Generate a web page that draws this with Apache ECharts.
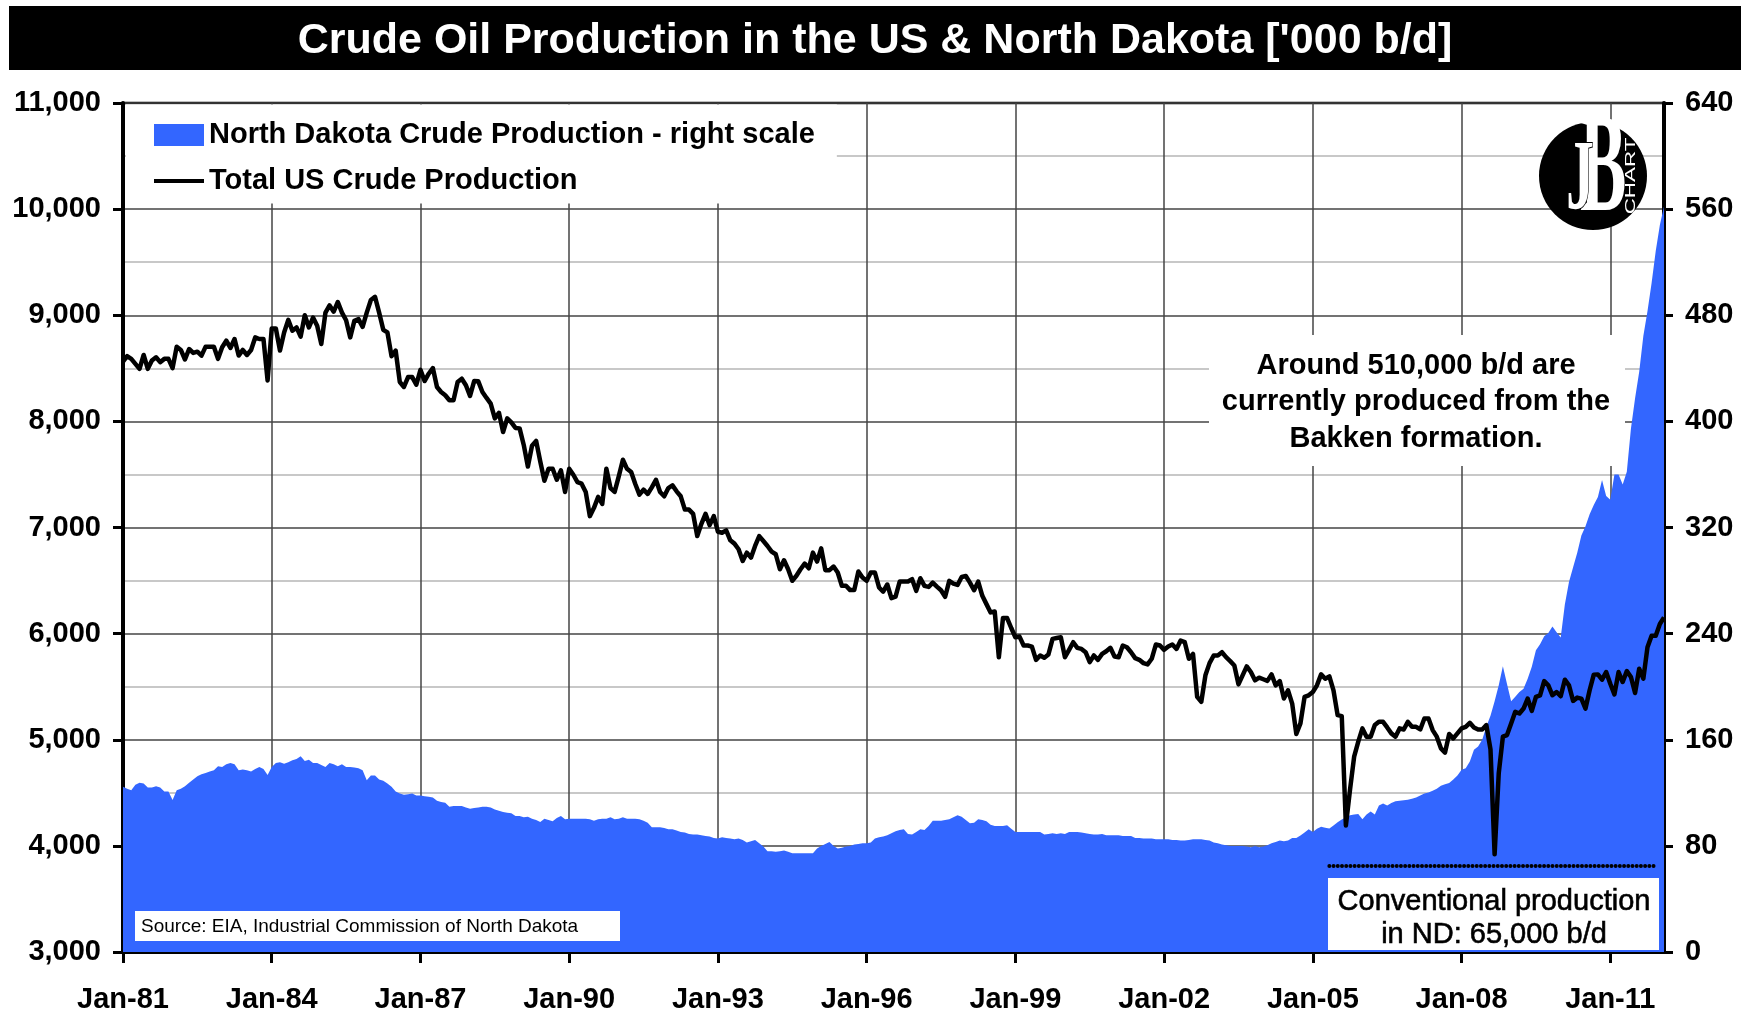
<!DOCTYPE html>
<html>
<head>
<meta charset="utf-8">
<script src="https://cdn.jsdelivr.net/npm/echarts@6/dist/echarts.min.js"></script>
<style>
html,body{margin:0;padding:0;background:#fff;}
#chart{width:1750px;height:1014px;}
</style>
</head>
<body>
<div id="chart"></div>
<script>
// ---------------- DATA ----------------
const titleText = "Crude Oil Production in the US & North Dakota ['000 b/d]";
const ndName = 'North Dakota Crude Production - right scale';
const usName = 'Total US Crude Production';
const monthNames = ['Jan','Feb','Mar','Apr','May','Jun','Jul','Aug','Sep','Oct','Nov','Dec'];
const firstYear = 1981;
const lastYear = 2012;
const lastMonthCount = 2; // Jan-12, Feb-12

// Total US crude production ('000 b/d), monthly Jan-81 .. Feb-12 (left scale)
const usTotal = [
  8564, 8614, 8589, 8542, 8495, 8626, 8495, 8573, 8604, 8558, 8589, 8589,
  8502, 8704, 8673, 8583, 8682, 8645, 8657, 8620, 8704, 8704, 8704, 8589,
  8698, 8760, 8692, 8776, 8620, 8673, 8626, 8673, 8791, 8776, 8776, 8386,
  8875, 8875, 8667, 8838, 8956, 8854, 8885, 8798, 9000, 8885, 8978, 8900,
  8729, 9025, 9093, 9034, 9125, 9025, 8953, 8791, 8947, 8963, 8891, 9025,
  9143, 9174, 9025, 8863, 8838, 8614, 8667, 8371, 8324, 8417, 8417, 8346,
  8486, 8380, 8449, 8502, 8324, 8277, 8246, 8199, 8199, 8371, 8402, 8340,
  8240, 8380, 8377, 8277, 8221, 8168, 8028, 8081, 7900, 8028, 7990, 7938,
  7934, 7778, 7575, 7770, 7816, 7622, 7441, 7553, 7553, 7450, 7538, 7335,
  7553, 7497, 7428, 7413, 7335, 7107, 7185, 7288, 7222, 7553, 7372, 7335,
  7482, 7638, 7553, 7522, 7410, 7310, 7357, 7316, 7378, 7450, 7335, 7294,
  7372, 7397, 7341, 7294, 7169, 7169, 7129, 6919, 7035, 7129, 7022, 7107,
  6960, 6951, 6973, 6879, 6848, 6795, 6685, 6763, 6716, 6826, 6919, 6873,
  6826, 6773, 6748, 6607, 6691, 6607, 6498, 6545, 6607, 6660, 6616, 6763,
  6679, 6804, 6598, 6598, 6632, 6576, 6451, 6451, 6410, 6410, 6585, 6529,
  6498, 6576, 6576, 6435, 6395, 6463, 6335, 6349, 6491, 6490, 6491, 6513,
  6403, 6522, 6450, 6440, 6481, 6443, 6409, 6347, 6497, 6472, 6459, 6534,
  6543, 6481, 6409, 6490, 6356, 6278, 6200, 6209, 5778, 6147, 6147, 6053,
  5966, 5972, 5888, 5888, 5878, 5753, 5794, 5772, 5803, 5950, 5959, 5966,
  5778, 5847, 5919, 5866, 5856, 5825, 5731, 5794, 5753, 5809, 5834, 5866,
  5785, 5778, 5888, 5872, 5825, 5769, 5753, 5722, 5710, 5763, 5897, 5888,
  5847, 5878, 5897, 5856, 5934, 5919, 5763, 5809, 5404, 5357, 5607, 5722,
  5794, 5794, 5825, 5778, 5741, 5700, 5522, 5607, 5691, 5638, 5560, 5585,
  5570, 5555, 5616, 5513, 5553, 5388, 5466, 5341, 5054, 5154, 5404, 5419,
  5450, 5513, 5616, 5575, 5597, 5466, 5232, 5222, 4192, 4529, 4841, 4982,
  5107, 5029, 5029, 5138, 5169, 5169, 5116, 5060, 5029, 5107, 5097, 5169,
  5122, 5122, 5097, 5200, 5200, 5091, 5029, 4919, 4879, 5054, 5013, 5060,
  5107, 5122, 5160, 5116, 5097, 5097, 5138, 4910, 3920, 4685, 5029, 5044,
  5154, 5263, 5247, 5294, 5388, 5272, 5404, 5419, 5553, 5513, 5419, 5450,
  5410, 5566, 5513, 5366, 5397, 5388, 5294, 5466, 5613, 5616, 5566, 5638,
  5528, 5428, 5638, 5544, 5647, 5591, 5441, 5669, 5575, 5872, 5981, 5981,
  6091, 6153
];

// North Dakota crude production ('000 b/d), monthly Jan-81 .. Feb-12 (right scale)
const ndProduction = [
  124.5, 123, 122, 126, 127.5, 127, 124, 124, 125, 124, 121, 121,
  114.5, 122, 123, 125, 127.5, 130, 132.5, 134, 135, 136, 137, 140,
  139.5, 141.5, 142.5, 141.5, 137, 137.5, 137, 136, 138, 139.5, 138, 133.5,
  139.5, 142.5, 143, 142, 143, 144.5, 145.5, 147.5, 144, 145, 142.5, 142.5,
  141, 139.5, 142.5, 141.5, 140, 141.5, 139.5, 139.5, 139, 138.5, 137, 129.5,
  133, 133, 130, 129, 127, 124.5, 121, 119.5, 118.5, 119, 119.5, 118,
  118, 117.5, 117, 116.5, 114, 113, 112.5, 109.5, 110, 110, 110, 109,
  108, 108.5, 109, 109.5, 109.5, 109, 107.5, 106.5, 105.5, 105, 104.5, 102.5,
  102.5, 101.5, 102, 100.5, 99.5, 98, 100.5, 99.5, 98.5, 101, 102.5, 100,
  100.5, 100.5, 100.5, 100.5, 100.5, 100, 99, 100, 100.5, 100.5, 101.5, 100,
  100.5, 101.5, 100.5, 100.5, 100.5, 100, 99, 97.5, 94, 94, 94, 93.5,
  92.5, 92.5, 91.5, 90.5, 90, 89, 88.5, 88.5, 88, 87.5, 87, 86,
  85.5, 86.5, 86, 85.5, 85, 85.5, 84.5, 82.5, 83.5, 84.5, 82, 79.5,
  76, 76, 75.5, 76, 76.5, 75.5, 74.5, 74.5, 74.5, 74.5, 74.5, 74.5,
  78, 80, 81.5, 83, 80, 78, 78.5, 79.5, 80, 81, 81.5, 82,
  82, 82.5, 85.5, 86.5, 87, 88, 89.5, 91, 92, 92.5, 89, 88.5,
  90.5, 92.5, 92, 95, 99, 99, 99, 99.5, 100, 101.5, 103, 102,
  99.5, 97, 97.5, 100, 99.5, 98.5, 96, 95, 95, 95, 95.5, 93,
  90.5, 90.5, 90.5, 90.5, 90.5, 90.5, 90.5, 88.5, 89, 89.5, 89, 89.5,
  89, 90.5, 90.5, 90.5, 90, 89.5, 89, 88.5, 88.5, 89, 88, 88,
  88, 88, 87.5, 87.5, 87.5, 86, 86, 85.5, 85.5, 85.5, 85, 85,
  85, 85, 84.5, 84.5, 84, 84, 84.5, 85, 85, 85, 84.5, 84,
  82.5, 82, 81, 80.5, 80, 80, 80, 80, 79.5, 79, 80, 79,
  79.5, 80.5, 82, 83, 84, 83.5, 84, 86, 86, 87.8, 90, 92.5,
  90.5, 93, 94.5, 93.6, 93.1, 95.4, 97.9, 99.9, 101.6, 103, 103.6, 104,
  100, 103.6, 106, 103.6, 110.4, 111.9, 110.4, 112.4, 113.6, 114, 114.4, 114.8,
  115.5, 116.5, 117.9, 119.4, 120.3, 121.5, 123, 125.4, 126.5, 127.4, 130, 133,
  137.4, 138.6, 143.6, 152.4, 155, 160, 170, 178, 189, 201, 215.4, 202,
  189, 192.5, 196, 198.5, 206, 215, 227.4, 232, 238, 240.5, 245.3, 241,
  237, 262, 279, 290, 301, 314, 321, 330, 337, 343, 355.8, 343.8,
  341, 359.9, 359.9, 352.4, 362, 394.7, 417.5, 437.5, 464.3, 483, 504.4, 528.5,
  548, 562
];

// Conventional ND production reference line ('000 b/d) and its span
const conventionalLevel = 65;
const conventionalFrom = 'May-05';
const conventionalTo = 'Dec-11';

const leftTicks = { min: 3000, max: 11000, step: 1000 };
const rightTicks = { min: 0, max: 640, step: 80 };
const labelEveryMonths = 36;

const annotationText = 'Around 510,000 b/d are\ncurrently produced from the\nBakken formation.';
const conventionalText = 'Conventional production\nin ND: 65,000 b/d';
const sourceText = 'Source: EIA, Industrial Commission of North Dakota';

// ---------------- CATEGORIES ----------------
const categories = [];
for (let y = firstYear; y <= lastYear; y++) {
  const nm = (y === lastYear) ? lastMonthCount : 12;
  for (let m = 0; m < nm; m++) {
    categories.push(monthNames[m] + '-' + String(y).slice(2));
  }
}

const FONT = 'Liberation Sans, Arial, Helvetica, sans-serif';
const showEvery = (idx) => idx % labelEveryMonths === 0;
const fmtThousands = (v) => String(v).replace(/\B(?=(\d{3})+(?!\d))/g, ',');

const chart = echarts.init(document.getElementById('chart'), null, { renderer: 'canvas' });

const option = {
  animation: false,
  backgroundColor: '#ffffff',
  textStyle: { fontFamily: FONT },
  title: {
    text: titleText,
    left: 'center',
    top: 20,
    padding: 0,
    textStyle: { color: '#ffffff', fontSize: 43, fontWeight: 'bold', fontFamily: FONT }
  },
  legend: {
    orient: 'vertical',
    left: 126,
    top: 104.5,
    backgroundColor: '#ffffff',
    padding: [16, 22, 8, 28],
    itemWidth: 50,
    itemHeight: 22,
    itemGap: 17,
    selectedMode: false,
    textStyle: { fontSize: 29, fontWeight: 'bold', color: '#000', fontFamily: FONT, lineHeight: 29 },
    data: [
      { name: ndName, icon: 'rect' },
      { name: usName, icon: 'path://M0,0 L50,0 L50,4 L0,4 Z' }
    ]
  },
  grid: {
    left: 123,
    right: 86,
    top: 103,
    bottom: 58,
    show: true,
    borderColor: '#000',
    borderWidth: 2.5,
    backgroundColor: 'transparent',
    containLabel: false
  },
  xAxis: {
    type: 'category',
    data: categories,
    boundaryGap: false,
    axisLine: { show: true, lineStyle: { color: '#000', width: 4 } },
    axisTick: { show: true, interval: showEvery, length: 11, lineStyle: { color: '#000', width: 3 } },
    axisLabel: { interval: showEvery, fontSize: 29, fontWeight: 'bold', color: '#000', margin: 33, fontFamily: FONT },
    splitLine: { show: true, interval: showEvery, lineStyle: { color: '#444', width: 1.5 } }
  },
  yAxis: [
    {
      type: 'value',
      position: 'left',
      min: leftTicks.min,
      max: leftTicks.max,
      interval: leftTicks.step,
      axisLine: { show: true, lineStyle: { color: '#000', width: 4 } },
      axisTick: { show: true, length: 10, lineStyle: { color: '#000', width: 3 } },
      axisLabel: { fontSize: 29, fontWeight: 'bold', color: '#000', margin: 22, formatter: fmtThousands, fontFamily: FONT },
      splitLine: { show: true, lineStyle: { color: '#444', width: 1.5 } },
      minorTick: { show: false, splitNumber: 2 },
      minorSplitLine: { show: true, lineStyle: { color: '#c8c8c8', width: 2 } }
    },
    {
      type: 'value',
      position: 'right',
      min: rightTicks.min,
      max: rightTicks.max,
      interval: rightTicks.step,
      axisLine: { show: true, lineStyle: { color: '#000', width: 4 } },
      axisTick: { show: true, length: 9, lineStyle: { color: '#000', width: 3 } },
      axisLabel: { fontSize: 29, fontWeight: 'bold', color: '#000', margin: 21, fontFamily: FONT },
      splitLine: { show: false }
    }
  ],
  series: [
    {
      name: ndName,
      type: 'line',
      yAxisIndex: 1,
      data: ndProduction,
      symbol: 'none',
      color: '#3366ff',
      lineStyle: { width: 0, color: '#3366ff' },
      areaStyle: { color: '#3366ff', opacity: 1 },
      z: 2,
      markLine: {
        silent: true,
        symbol: 'none',
        label: { show: false },
        lineStyle: { color: '#000', width: 4, type: [0.01, 4.2], cap: 'round' },
        data: [[
          { coord: [conventionalFrom, conventionalLevel] },
          { coord: [conventionalTo, conventionalLevel] }
        ]]
      }
    },
    {
      name: usName,
      type: 'line',
      yAxisIndex: 0,
      data: usTotal,
      symbol: 'none',
      color: '#000',
      lineStyle: { width: 4.5, color: '#000', join: 'round' },
      z: 3
    }
  ],
  graphic: [
    { type: 'rect', z: 0, shape: { x: 9, y: 6, width: 1732, height: 64 }, style: { fill: '#000' } },
    // annotation box
    { type: 'rect', z: 5, shape: { x: 1209, y: 335, width: 416, height: 131 }, style: { fill: '#fff' } },
    { type: 'text', z: 6, x: 1416, y: 402,
      style: { text: annotationText, fill: '#000', font: 'bold 29px ' + FONT, align: 'center', verticalAlign: 'middle', lineHeight: 36.5 } },
    // conventional production box
    { type: 'rect', z: 5, shape: { x: 1328, y: 878, width: 331, height: 72 }, style: { fill: '#fff' } },
    { type: 'text', z: 6, x: 1494, y: 918,
      style: { text: conventionalText, fill: '#000', font: '29px ' + FONT, align: 'center', verticalAlign: 'middle', lineHeight: 33, stroke: '#000', lineWidth: 0.6 } },
    // source box
    { type: 'rect', z: 5, shape: { x: 135, y: 911, width: 485, height: 30 }, style: { fill: '#fff' } },
    { type: 'text', z: 6, x: 141, y: 926.5,
      style: { text: sourceText, fill: '#000', font: '19px ' + FONT, align: 'left', verticalAlign: 'middle' } },
    // logo
    { type: 'circle', z: 5, shape: { cx: 1593, cy: 176, r: 54 }, style: { fill: '#000' } },
    { type: 'text', z: 6, x: 1603, y: 174, scaleX: 0.5,
      style: { text: 'B', fill: '#fff', font: 'bold 140px Liberation Serif, serif', align: 'center', verticalAlign: 'middle' } },
    { type: 'text', z: 7, x: 1580, y: 182, scaleX: 0.55,
      style: { text: 'J', fill: '#fff', font: 'bold 100px Liberation Serif, serif', align: 'center', verticalAlign: 'middle', stroke: '#000', lineWidth: 2 } },
    { type: 'text', z: 7, x: 1631, y: 176, rotation: Math.PI / 2, scaleX: 1.6,
      style: { text: 'CHART', fill: '#fff', font: '14px ' + FONT, align: 'center', verticalAlign: 'middle' } }
  ]
};

chart.setOption(option);
</script>
</body>
</html>
